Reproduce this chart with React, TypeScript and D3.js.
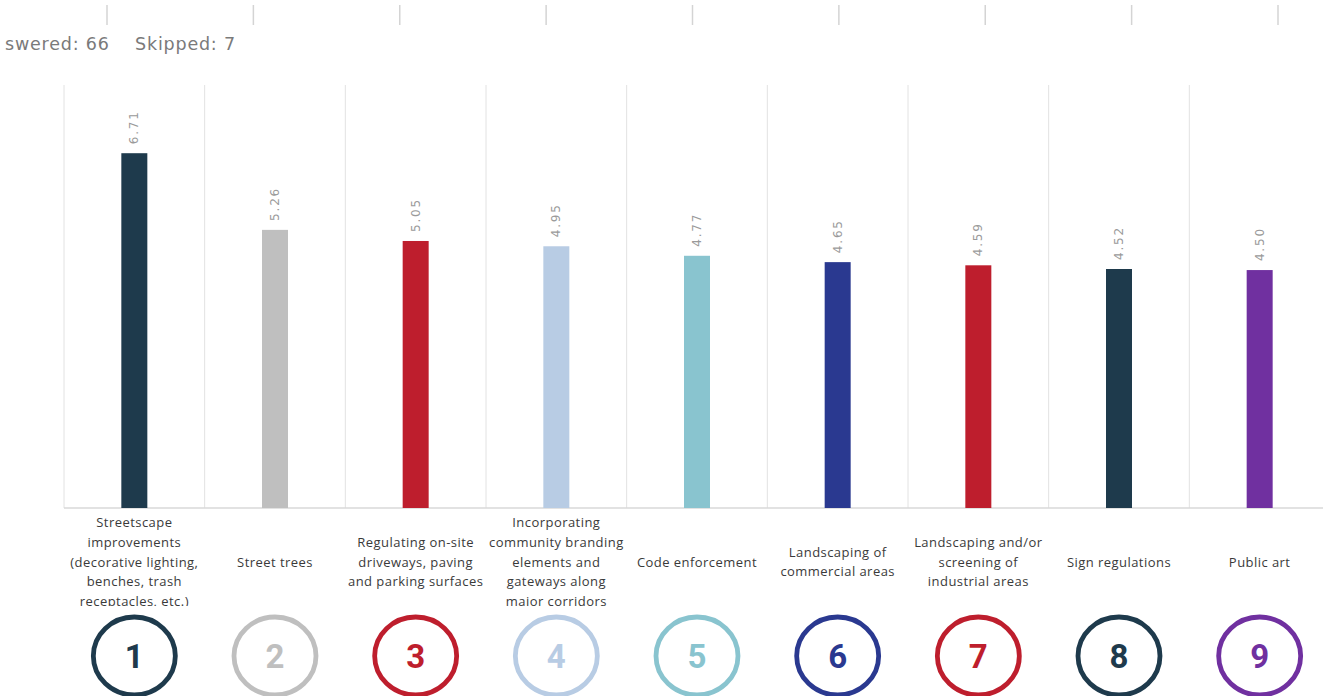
import { useEffect, useRef } from 'react';
import * as d3 from 'd3';

const width = 1323
const height = 696
const margin = { top: 85, left: 64, bottom: 188 }
const plotRight = 1330

const categories = [
  'Streetscape improvements (decorative lighting, benches, trash receptacles, etc.)',
  'Street trees',
  'Regulating on-site driveways, paving and parking surfaces',
  'Incorporating community branding elements and gateways along major corridors',
  'Code enforcement',
  'Landscaping of commercial areas',
  'Landscaping and/or screening of industrial areas',
  'Sign regulations',
  'Public art',
]

// category labels broken the way the source wraps them
const labelLines = [
  ['Streetscape', 'improvements', '(decorative lighting,', 'benches, trash', 'receptacles, etc.)'],
  ['Street trees'],
  ['Regulating on-site', 'driveways, paving', 'and parking surfaces'],
  ['Incorporating', 'community branding', 'elements and', 'gateways along', 'major corridors'],
  ['Code enforcement'],
  ['Landscaping of', 'commercial areas'],
  ['Landscaping and/or', 'screening of', 'industrial areas'],
  ['Sign regulations'],
  ['Public art'],
]

const scores = [6.71, 5.26, 5.05, 4.95, 4.77, 4.65, 4.59, 4.52, 4.50]
const ranks = ['1', '2', '3', '4', '5', '6', '7', '8', '9']

const barColors = ['#1e3a4c', '#bfbfbf', '#be1e2d', '#b8cce4', '#89c4cf', '#2a3990', '#be1e2d', '#1e3a4c', '#7030a0']
const headerText = 'swered: 66    Skipped: 7'

const RankingChart = () => {
  const d3svg = useRef(null)

  useEffect(() => {
    if (!d3svg.current) return
    const svg = d3.select(d3svg.current)
    svg.selectAll('*').remove()

    const baseY = height - margin.bottom

    const xScale = d3.scaleBand()
      .domain(categories)
      .range([margin.left, plotRight])
      .paddingInner(0)

    const yScale = d3.scaleLinear()
      .domain([0, 8])
      .range([baseY, margin.top])

    const barW = 26

    // faint ticks of the cropped chart above
    const topTicks = d3.scaleLinear().domain([0, 8]).range([107, 1278])
    svg.append('g')
      .selectAll('line')
      .data(d3.range(9))
      .enter()
      .append('line')
      .attr('x1', d => topTicks(d))
      .attr('x2', d => topTicks(d))
      .attr('y1', 5)
      .attr('y2', 25)
      .attr('stroke', '#d4d4d4')
      .attr('stroke-width', 1.5)

    svg.append('text')
      .attr('x', 5)
      .attr('y', 50)
      .attr('fill', '#7a7a7a')
      .style('font-family', '"DejaVu Sans", sans-serif')
      .style('font-size', '17.5px')
      .style('letter-spacing', '0.8px')
      .style('white-space', 'pre')
      .text(headerText)

    // vertical gridlines between categories
    const edges = categories.map(c => xScale(c)).concat([plotRight])
    svg.append('g')
      .selectAll('line')
      .data(edges)
      .enter()
      .append('line')
      .attr('x1', d => d)
      .attr('x2', d => d)
      .attr('y1', margin.top)
      .attr('y2', baseY)
      .attr('stroke', '#e2e2e2')
      .attr('stroke-width', 1)

    // baseline
    svg.append('line')
      .attr('x1', margin.left)
      .attr('x2', width)
      .attr('y1', baseY)
      .attr('y2', baseY)
      .attr('stroke', '#d9d9d9')
      .attr('stroke-width', 1.5)

    // bars
    svg.selectAll('.bar')
      .data(scores)
      .enter()
      .append('rect')
      .attr('class', 'bar')
      .attr('x', (d, i) => xScale(categories[i]) + xScale.bandwidth() / 2 - barW / 2)
      .attr('y', d => yScale(d))
      .attr('width', barW)
      .attr('height', d => baseY - yScale(d))
      .style('fill', (d, i) => barColors[i])

    // value labels, rotated
    svg.selectAll('.val')
      .data(scores)
      .enter()
      .append('text')
      .attr('class', 'val')
      .attr('transform', (d, i) => `translate(${xScale(categories[i]) + xScale.bandwidth() / 2 + 4},${yScale(d) - 9}) rotate(-90)`)
      .attr('fill', '#9a9a9a')
      .style('font-family', '"DejaVu Sans", sans-serif')
      .style('font-size', '12px')
      .style('letter-spacing', '1.8px')
      .text(d => d.toFixed(2))

    // category labels, clipped at the bottom like the source
    svg.append('clipPath')
      .attr('id', 'label-clip')
      .append('rect')
      .attr('x', 0)
      .attr('y', baseY + 2)
      .attr('width', width)
      .attr('height', 606 - baseY - 2)

    const lineH = 19.7
    const labels = svg.append('g').attr('clip-path', 'url(#label-clip)')
    labelLines.forEach((lines, i) => {
      const cx = xScale(categories[i]) + xScale.bandwidth() / 2
      const t = labels.append('text')
        .attr('text-anchor', 'middle')
        .attr('fill', '#3a3a3a')
        .style('font-family', '"Open Sans", sans-serif')
        .style('font-size', '13px')
        .style('letter-spacing', '0.45px')
      lines.forEach((ln, j) => {
        t.append('tspan')
          .attr('x', cx)
          .attr('y', 562 + (j - (lines.length - 1) / 2) * lineH)
          .attr('dy', '0.35em')
          .text(ln)
      })
    })

    // numbered rings under each column
    const rings = svg.append('g')
      .selectAll('g')
      .data(ranks)
      .enter()
      .append('g')
      .attr('transform', (d, i) => `translate(${xScale(categories[i]) + xScale.bandwidth() / 2},656)`)

    rings.append('ellipse')
      .attr('rx', 41)
      .attr('ry', 39)
      .attr('fill', 'none')
      .attr('stroke', (d, i) => barColors[i])
      .attr('stroke-width', 4.8)

    rings.append('text')
      .attr('text-anchor', 'middle')
      .attr('dy', '0.36em')
      .attr('fill', (d, i) => barColors[i])
      .style('font-family', 'Roboto, sans-serif')
      .style('font-weight', 'bold')
      .style('font-size', '33px')
      .text(d => d)
  }, [])

  return (
    <svg
      width={width}
      height={height}
      style={{ position: 'absolute', left: 0, top: 0, background: '#fff' }}
      ref={d3svg}
    ></svg>
  )
}

export default function App() {
  return <RankingChart />
}
